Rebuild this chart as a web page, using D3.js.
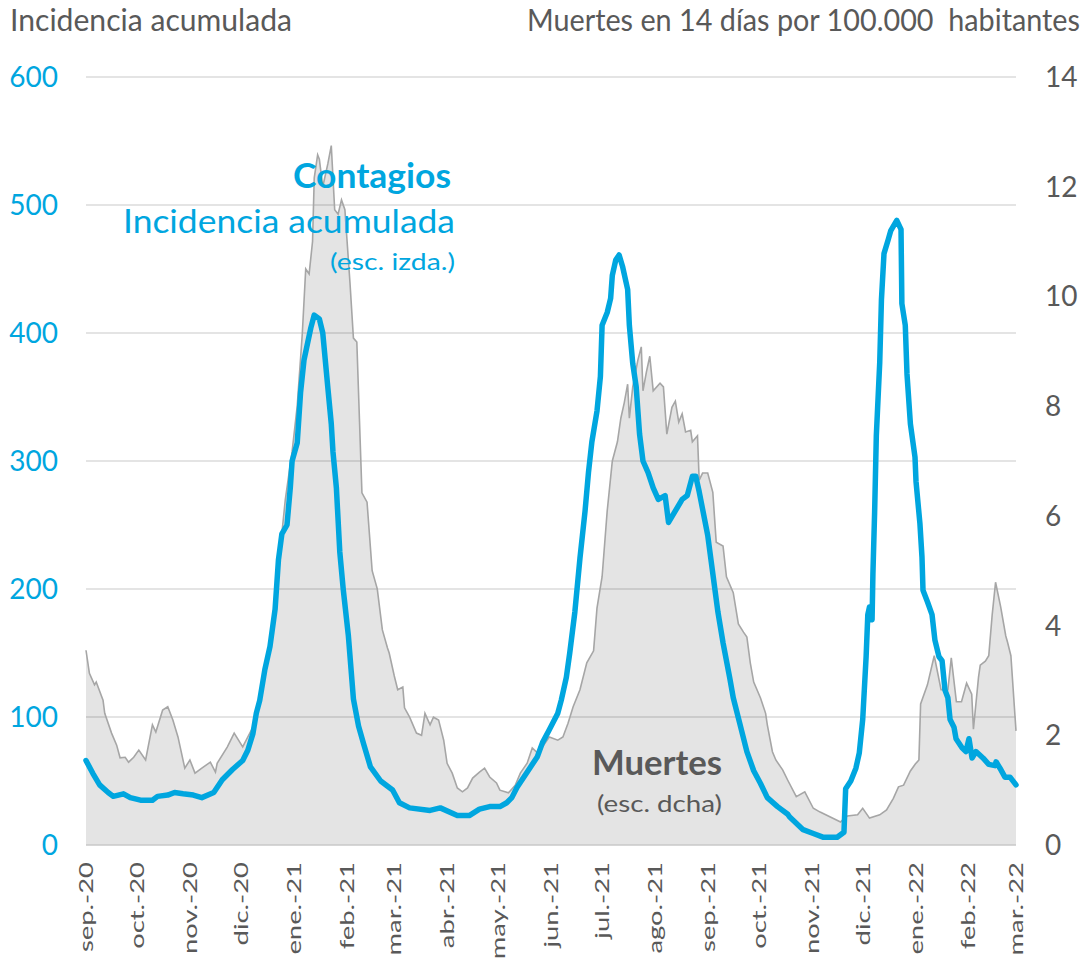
<!DOCTYPE html>
<html>
<head>
<meta charset="utf-8">
<script src="https://cdn.jsdelivr.net/npm/d3@7"></script>
<style>
body { margin: 0; background: #fff; }
text { font-family: Lato, "Open Sans", sans-serif; }
</style>
</head>
<body>
<svg id="chart" width="1091" height="959"></svg>
<script>
// etiquetas del eje x (inicio de cada mes)
var meses = ["sep.-20", "oct.-20", "nov.-20", "dic.-20", "ene.-21", "feb.-21", "mar.-21", "abr.-21", "may.-21",
  "jun.-21", "jul.-21", "ago.-21", "sep.-21", "oct.-21", "nov.-21", "dic.-21", "ene.-22", "feb.-22", "mar.-22"]
var ejeIzq = [0, 100, 200, 300, 400, 500, 600]
var ejeDer = [0, 2, 4, 6, 8, 10, 12, 14]

// [días desde el 1-sep-2020, incidencia acumulada] (esc. izda.)
var incidencia = [[0,66],[4,56],[8,47],[13,41],[16,38],[22,40],[26,37],[32,35],[39,35],[42,38],[48,39],[52,41],[57,40],
  [63,39],[68,37],[75,41],[80,51],[86,59],[92,66],[95,74],[98,87],[100,103],[102,113],[105,137],[108,155],[111,184],
  [113,223],[115,243],[118,250],[120,280],[121,300],[124,314],[126,354],[128,379],[132,404],[134,414],[137,411],
  [139,400],[142,357],[144,329],[145,307],[147,279],[149,229],[151,200],[154,164],[157,114],[160,93],[163,79],[167,61],
  [173,50],[180,43],[184,33],[190,29],[202,27],[208,29],[218,23],[225,23],[231,28],[237,30],[243,30],[247,33],[250,37],
  [253,45],[257,53],[261,61],[265,69],[268,80],[272,90],[277,103],[279,113],[282,131],[284,150],[287,182],[290,224],
  [293,261],[295,291],[297,315],[300,339],[302,366],[303,406],[306,416],[308,427],[309,445],[311,457],[313,461],
  [315,452],[318,434],[319,406],[321,376],[323,358],[325,321],[327,300],[330,291],[333,279],[336,270],[340,273],
  [342,252],[346,261],[350,270],[353,273],[356,288],[358,288],[360,276],[365,242],[368,212],[371,182],[374,158],
  [378,130],[380,115],[384,94],[388,73],[392,58],[396,48],[400,37],[406,30],[412,24],[413,22],[421,12],[427,9],
  [433,6],[441,6],[445,10],[446,44],[449,50],[452,60],[454,72],[456,98],[458,147],[459,180],[460,186],[461.5,176],
  [462,212],[463,260],[464,320],[466,377],[467,426],[468.5,462],[471,473],[472.5,480],[476,488],[478.5,481],[479,423],
  [481,406],[482,368],[484,329],[486.7,303],[487.3,284],[489.6,251],[490.8,225],[491.4,199],[494,190],[496.7,180],
  [498.4,160],[500.8,147],[502.6,144],[504.3,121],[506,115],[507.3,98],[509.6,92],[510.8,83],[514.3,76],[516.6,73],
  [518.4,83],[520.2,68],[522.5,73],[526.6,68],[530,63],[533.7,62],[534.3,65],[536.6,60],[539.5,53],[542.5,53],[546,47]]

// [días desde el 1-sep-2020, muertes en 14 días por 100.000 hab.] (esc. dcha)
var muertes = [[0,3.55],[2,3.13],[5,2.92],[6,2.97],[10,2.64],[11,2.4],[15,2.04],[18,1.82],[20,1.59],[23,1.6],[25,1.51],
  [28,1.6],[31,1.73],[35,1.55],[39,2.19],[41,2.06],[45,2.46],[48,2.52],[51,2.28],[54,1.97],[58,1.4],[61,1.55],[64,1.31],
  [68,1.4],[73,1.51],[76,1.33],[77,1.49],[83,1.79],[87,2.04],[92,1.79],[98,2.15],[102,2.6],[105,3.19],[108,3.74],
  [111,4.47],[114,5.38],[117,6.29],[121,7.17],[124,8.0],[127,9.33],[129,10.5],[131,10.41],[133,11.0],[134,12.16],
  [136,12.58],[137,12.5],[139,12.0],[142,12.42],[144,12.75],[146,11.58],[148,11.5],[150,11.76],[152,11.58],[155,10.24],
  [157,9.24],[159,9.17],[162,6.42],[165,6.25],[168,5.0],[171,4.67],[174,3.92],[177,3.59],[178,3.5],[181,3.08],
  [183,2.83],[186,2.88],[187,2.5],[190,2.33],[194,2.04],[197,2.0],[199,2.4],[202,2.19],[204,2.33],[207,2.28],[210,1.91],
  [212,1.49],[215,1.31],[218,1.04],[221,0.97],[224,1.04],[227,1.22],[231,1.33],[234,1.4],[237,1.24],[241,1.13],[243,1.0],
  [248,0.95],[252,1.09],[255,1.31],[259,1.49],[262,1.77],[265,1.68],[268,1.79],[272,1.97],[277,1.91],[280,1.97],
  [283,2.22],[286,2.52],[290,2.83],[294,3.32],[298,3.54],[300,4.32],[303,4.89],[306,6.09],[309,7.0],[312,7.35],
  [314,7.78],[316,8.06],[318,8.4],[319,7.78],[321,8.35],[324,8.84],[326,9.08],[327,8.28],[329,8.62],[331,8.91],
  [333,8.28],[337,8.42],[339,8.35],[341,7.49],[344,7.98],[346,8.09],[348,7.71],[350,7.86],[352,7.53],[355,7.56],
  [356,7.35],[359,7.46],[360,6.65],[362,6.78],[365,6.78],[368,6.43],[370,5.52],[374,5.45],[376,4.89],[380,4.6],
  [383,4.03],[386,3.88],[388,3.79],[390,3.32],[392,2.97],[396,2.68],[399,2.4],[400,2.19],[403,1.7],[405,1.55],
  [409,1.37],[412,1.18],[417,0.88],[422,0.97],[427,0.67],[431,0.6],[437,0.51],[443,0.42],[447,0.53],[453,0.55],
  [456,0.67],[460,0.49],[466,0.55],[470,0.64],[474,0.85],[477,1.06],[480,1.09],[484,1.35],[487,1.48],[489,1.55],
  [490,2.57],[494,2.92],[498,3.45],[502,2.83],[506,2.83],[508,3.41],[511,2.61],[514,2.61],[517,2.95],[520,2.75],
  [521,2.11],[524,3.06],[525,3.28],[528,3.35],[530,3.45],[532,4.19],[534,4.79],[537,4.34],[540,3.81],[541,3.7],
  [543,3.45],[546,2.08]]

var inicio = new Date(2020, 8, 1), fin = new Date(2022, 2, 1)
function fecha(d) { return new Date(+inicio + d * 864e5) }

var azul = "#00a6df", gris = "#595959"
var svg = d3.select('#chart')

// escalas
var x = d3.scaleTime().domain([inicio, fin]).range([86, 1016])
var yIzq = d3.scaleLinear().domain([0, 600]).range([845, 77])
var yDer = d3.scaleLinear().domain([0, 14]).range([845, 77])

// área de muertes
var area = d3.area()
  .x(function(d) { return x(fecha(d[0])) })
  .y0(yDer(0))
  .y1(function(d) { return yDer(d[1]) })
svg.append("path").datum(muertes).attr("d", area).attr("fill", "#e4e4e4")

// líneas de cuadrícula
svg.selectAll(".grid").data(ejeIzq.slice(1)).enter().append("line")
  .attr("x1", 86).attr("x2", 1016)
  .attr("y1", function(d) { return yIzq(d) }).attr("y2", function(d) { return yIzq(d) })
  .attr("stroke", "rgba(0,0,0,0.14)").attr("stroke-width", 1.5)
svg.append("line").attr("x1", 86).attr("x2", 1016).attr("y1", yIzq(0)).attr("y2", yIzq(0))
  .attr("stroke", "#c8c8c8").attr("stroke-width", 1.5)

// línea de muertes
var lineaM = d3.line()
  .x(function(d) { return x(fecha(d[0])) })
  .y(function(d) { return yDer(d[1]) })
svg.append("path").datum(muertes).attr("d", lineaM)
  .attr("fill", "none").attr("stroke", "#a6a6a6").attr("stroke-width", 1.6)

// línea de incidencia
var lineaI = d3.line()
  .x(function(d) { return x(fecha(d[0])) })
  .y(function(d) { return yIzq(d[1]) })
svg.append("path").datum(incidencia).attr("d", lineaI)
  .attr("fill", "none").attr("stroke", azul).attr("stroke-width", 5.5)
  .attr("stroke-linejoin", "round").attr("stroke-linecap", "round")

// ejes
svg.selectAll(".tickI").data(ejeIzq).enter().append("text")
  .attr("x", 58).attr("y", function(d) { return yIzq(d) + 10 })
  .attr("text-anchor", "end").attr("font-size", 28).attr("fill", azul)
  .text(function(d) { return d })
svg.selectAll(".tickD").data(ejeDer).enter().append("text")
  .attr("x", 1045).attr("y", function(d) { return yDer(d) + 10 })
  .attr("font-size", 28).attr("fill", gris)
  .text(function(d) { return d })

var mesTicks = d3.timeMonth.range(inicio, d3.timeDay.offset(fin, 1))
svg.selectAll(".mes").data(mesTicks).enter().append("text")
  .attr("transform", function(d) { return "translate(" + (x(d) + 7) + ",862) rotate(-90) scale(1.37,1)" })
  .attr("text-anchor", "end").attr("font-size", 20).attr("fill", gris)
  .text(function(d, i) { return meses[i] })

// títulos
svg.append("text").attr("x", 10).attr("y", 31).attr("font-size", 30).attr("fill", gris)
  .attr("textLength", 282).attr("lengthAdjust", "spacingAndGlyphs")
  .text("Incidencia acumulada")
svg.append("text").attr("transform", "translate(527,31) scale(1,1.15)").attr("font-size", 26).attr("fill", gris)
  .attr("textLength", 553).attr("lengthAdjust", "spacingAndGlyphs").style("white-space", "pre")
  .text("Muertes en 14 días por 100.000  habitantes")

// anotaciones
svg.append("text").attr("x", 293).attr("y", 188).attr("font-size", 35).attr("font-weight", "bold").attr("fill", azul)
  .attr("textLength", 158).attr("lengthAdjust", "spacingAndGlyphs").text("Contagios")
svg.append("text").attr("x", 123).attr("y", 233).attr("font-size", 33).attr("fill", azul)
  .attr("textLength", 332).attr("lengthAdjust", "spacingAndGlyphs").text("Incidencia acumulada")
svg.append("text").attr("x", 330).attr("y", 270).attr("font-size", 23).attr("fill", azul)
  .attr("textLength", 125).attr("lengthAdjust", "spacingAndGlyphs").text("(esc. izda.)")
svg.append("text").attr("x", 592).attr("y", 775).attr("font-size", 35).attr("font-weight", "bold").attr("fill", gris)
  .attr("textLength", 130).attr("lengthAdjust", "spacingAndGlyphs").text("Muertes")
svg.append("text").attr("x", 597).attr("y", 812).attr("font-size", 23).attr("fill", gris)
  .attr("textLength", 125).attr("lengthAdjust", "spacingAndGlyphs").text("(esc. dcha)")
</script>
</body>
</html>
